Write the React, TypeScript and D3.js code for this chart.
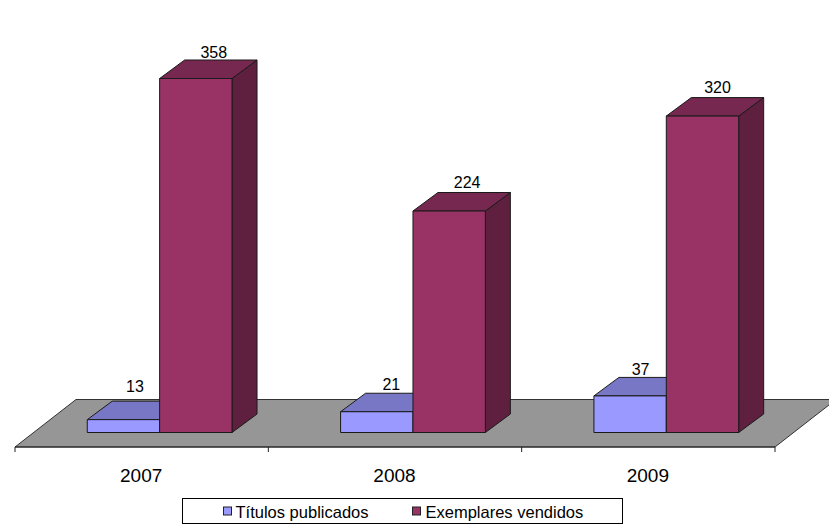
import React from "react";
import * as d3 from "d3";

const years = ["2007", "2008", "2009"];
const titulos = [13, 21, 37];
const exemplares = [358, 224, 320];
const seriesNames = ["Títulos publicados", "Exemplares vendidos"];
const frontColors = ["#9999FF", "#993366"];
const topColors = ["#7777C6", "#772850"];
const sideColors = ["#5F5F9F", "#5F2040"];
// label placement nudges, per year
const labelShiftX = [[11.5, 14.5, 10.5], [18, 18, 15]];
const labelLift = [[9, 3.7, 2.5], [1.7, 5, 4.6]];

const W = 829, H = 524;
const x0 = d3.scaleBand<string>().domain(years).range([15, 775]);
const y = d3.scaleLinear().domain([0, 358]).range([432.5, 78.5]);
const bandW = x0.bandwidth();
const barW = bandW / 3.5;
const barDx = 25, barDy = 18.5;
const floorFrontY = 447, floorBackY = 399.5, floorDx = 61;
const font = "'Liberation Sans', Arial, sans-serif";
const line = d3.line();

function Bar({ x, v, s, i }: { x: number; v: number; s: number; i: number }) {
  const yT = y(v), yB = y(0);
  const xR = x + barW;
  const front: [number, number][] = [[x, yT], [xR, yT], [xR, yB], [x, yB]];
  const top: [number, number][] = [[x, yT], [x + barDx, yT - barDy], [xR + barDx, yT - barDy], [xR, yT]];
  const side: [number, number][] = [[xR, yT], [xR + barDx, yT - barDy], [xR + barDx, yB - barDy], [xR, yB]];
  const st = { stroke: "#1a1a1a", strokeWidth: 1, strokeLinejoin: "round" as const };
  return (
    <g>
      <path d={line(side)! + "Z"} fill={sideColors[s]} {...st} />
      <path d={line(top)! + "Z"} fill={topColors[s]} {...st} />
      <path d={line(front)! + "Z"} fill={frontColors[s]} {...st} />
      <text x={x + barW / 2 + labelShiftX[s][i]} y={yT - barDy - labelLift[s][i]} textAnchor="middle" fontSize={16} fill="#000" fontFamily={font}>{v}</text>
    </g>
  );
}

export default function App() {
  const floor: [number, number][] = [
    [15, floorFrontY],
    [15 + floorDx, floorBackY],
    [775 + floorDx, floorBackY],
    [775, floorFrontY],
  ];
  return (
    <svg width={W} height={H} style={{ position: "absolute", left: 0, top: 0, background: "#fff" }} fontFamily={font}>
      <path d={line(floor)! + "Z"} fill="#969696" stroke="#333" strokeWidth={1} />
      <path d={`M15,${floorFrontY}H775`} stroke="#222" strokeWidth={1.2} />
      {d3.range(4).map((i) => {
        const tx = 15 + i * bandW;
        return <line key={i} x1={tx} x2={tx} y1={floorFrontY} y2={floorFrontY + 5} stroke="#222" />;
      })}
      {years.map((yr, i) => {
        const bx = x0(yr)! + barW * 0.99 + 0.6;
        return (
          <g key={yr}>
            <Bar x={bx} v={titulos[i]} s={0} i={i} />
            <Bar x={bx + barW} v={exemplares[i]} s={1} i={i} />
            <text x={x0(yr)! + bandW / 2 - 0.5} y={481.5} textAnchor="middle" fontSize={19} fill="#000">{yr}</text>
          </g>
        );
      })}
      <rect x={182.5} y={498.5} width={440} height={25} fill="#fff" stroke="#000" />
      <rect x={223.5} y={507} width={8} height={8} fill={frontColors[0]} stroke="#222" />
      <text x={235.5} y={517.5} fontSize={16.5} fill="#000">{seriesNames[0]}</text>
      <rect x={412.5} y={507} width={8} height={8} fill={frontColors[1]} stroke="#222" />
      <text x={425.5} y={517.5} fontSize={16.5} fill="#000">{seriesNames[1]}</text>
    </svg>
  );
}
